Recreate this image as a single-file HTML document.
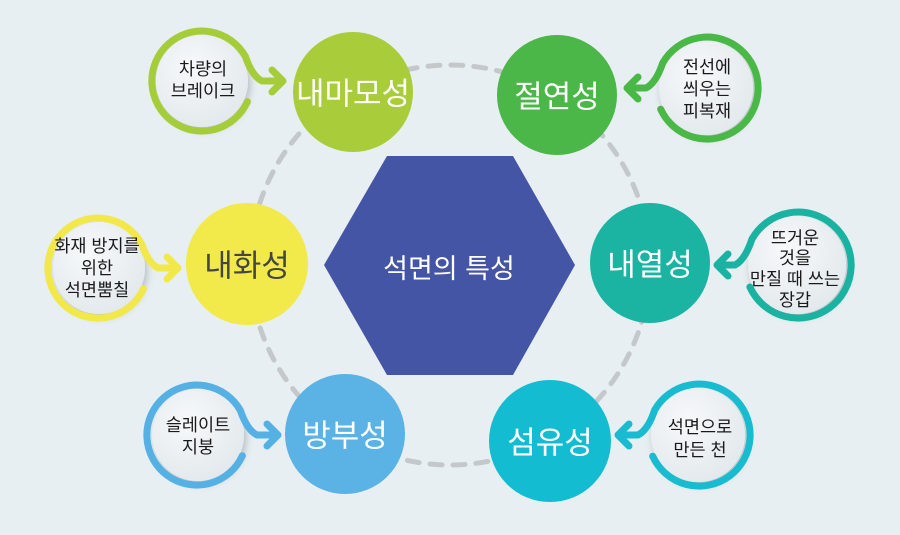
<!DOCTYPE html>
<html><head><meta charset="utf-8"><style>
html,body{margin:0;padding:0;background:#e7eff3;}
svg{display:block}
text{font-family:"Liberation Sans","Noto Sans CJK KR",sans-serif;text-anchor:middle;dominant-baseline:central}
</style></head><body>
<svg width="900" height="535" viewBox="0 0 900 535">
<defs>
<filter id="sh" x="-30%" y="-30%" width="160%" height="160%"><feDropShadow dx="2" dy="3" stdDeviation="4" flood-color="#000" flood-opacity="0.22"/></filter>
<radialGradient id="ig" cx="40%" cy="35%" r="70%"><stop offset="0" stop-color="#f7f9fa"/><stop offset="1" stop-color="#e2e8ec"/></radialGradient>
</defs>
<rect width="900" height="535" fill="#e7eff3"/>
<circle cx="450" cy="265" r="200" fill="none" stroke="#c4c8cb" stroke-width="5" stroke-dasharray="12 11" stroke-linecap="round"/>
<polygon points="324,265 387,156 513,156 575,265 513,375 387,375" fill="#4555a5"/>
<text x="449" y="269" font-size="27" fill="#fff">석면의 특성</text>

<circle cx="353" cy="92" r="60" fill="#a9cd3a"/>
<text x="353" y="94" font-size="31" fill="#fff">내마모성</text>
<circle cx="557" cy="95" r="60" fill="#4bb748"/>
<text x="557" y="97" font-size="31" fill="#fff">절연성</text>
<circle cx="247" cy="264" r="61" fill="#f2ea4b"/>
<text x="247" y="266" font-size="31" fill="#454545">내화성</text>
<circle cx="650" cy="263" r="60" fill="#1bb4a3"/>
<text x="650" y="265" font-size="31" fill="#fff">내열성</text>
<circle cx="345" cy="434" r="60" fill="#5ab2e5"/>
<text x="345" y="436" font-size="31" fill="#fff">방부성</text>
<circle cx="550" cy="441" r="61" fill="#14bcd2"/>
<text x="550" y="443" font-size="31" fill="#fff">섬유성</text>

<g fill="none" stroke-width="7" stroke-linecap="round" stroke-linejoin="round">
<circle cx="202" cy="81" r="46" fill="url(#ig)" stroke="none" filter="url(#sh)"/>
<path d="M247.4,101.7 A50,50 0 1 1 245.4,56.5 Q252,76 262,81 L283,81 M272,70 L283,81 L272,92" stroke="#a5cd39"/>
<circle cx="99" cy="268" r="46" fill="url(#ig)" stroke="none" filter="url(#sh)"/>
<path d="M143.4,288.7 A50,50 0 1 1 141.4,243.5 Q148,263 158,268 L178,268 M167,257 L178,268 L167,279" stroke="#f2e84a"/>
<circle cx="198" cy="435" r="46" fill="url(#ig)" stroke="none" filter="url(#sh)"/>
<path d="M242.4,455.7 A50,50 0 1 1 240.4,410.5 Q247,430 257,435 L278,435 M267,424 L278,435 L267,446" stroke="#55b0e3"/>
<circle cx="706" cy="88" r="47" fill="url(#ig)" stroke="none" filter="url(#sh)"/>
<path d="M660.7,109.2 A51,51 0 1 0 662.7,63 Q656,83 646,88 L627,88 M638,77 L627,88 L638,99" stroke="#4ab847"/>
<circle cx="797" cy="265" r="49" fill="url(#ig)" stroke="none" filter="url(#sh)"/>
<path d="M749.9,287 A53,53 0 1 0 752,239 Q745,260 735,265 L717,265 M728,254 L717,265 L728,276" stroke="#1ab3a2"/>
<circle cx="698" cy="435" r="47" fill="url(#ig)" stroke="none" filter="url(#sh)"/>
<path d="M652.7,456.2 A51,51 0 1 0 654.7,410 Q648,430 638,435 L618,435 M629,424 L618,435 L629,446" stroke="#19bbd0"/>
</g>

<g font-size="17.5" fill="#1a1a1a">
<text x="203" y="69">차량의</text><text x="203" y="91">브레이크</text>
<text x="97" y="246">화재 방지를</text><text x="97" y="268">위한</text><text x="97" y="290">석면뿜칠</text>
<text x="198" y="425">슬레이트</text><text x="198" y="447">지붕</text>
<text x="707" y="67">전선에</text><text x="707" y="89">씌우는</text><text x="707" y="111">피복재</text>
<text x="795" y="238">뜨거운</text><text x="795" y="258">것을</text><text x="795" y="279">만질 때 쓰는</text><text x="795" y="300">장갑</text>
<text x="700" y="427">석면으로</text><text x="700" y="450">만든 천</text>
</g>
</svg>
</body></html>
